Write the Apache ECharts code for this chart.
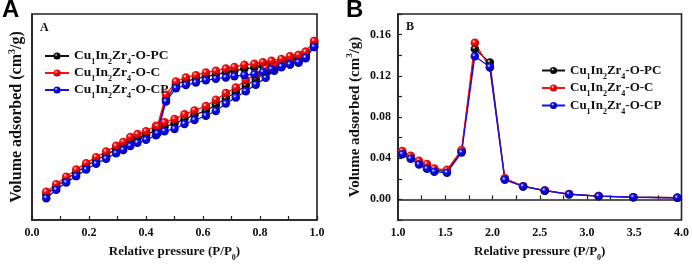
<!DOCTYPE html>
<html>
<head>
<meta charset="utf-8">
<script src="https://cdn.jsdelivr.net/npm/echarts@6/dist/echarts.min.js"></script>
<style>
  html, body { margin: 0; padding: 0; background: #fff; overflow: hidden; }
  #main { width: 692px; height: 267px; }
</style>
</head>
<body>
<div id="main"></div>
<script>
// panel A: N2 isotherms, adsorption branch then desorption branch
var adsX = [0.05, 0.085, 0.12, 0.155, 0.19, 0.225, 0.26, 0.295, 0.32, 0.345, 0.37, 0.40, 0.435, 0.465, 0.50,
	0.535, 0.57, 0.61, 0.645, 0.68, 0.715, 0.75, 0.785, 0.82, 0.85, 0.875, 0.905, 0.935, 0.96, 0.99];
var desX = [0.99, 0.96, 0.935, 0.905, 0.875, 0.84, 0.81, 0.78, 0.745, 0.71, 0.68, 0.645, 0.61, 0.575, 0.54, 0.505, 0.47, 0.44];

var adsPC = [12.5, 16.2, 19.8, 23.0, 26.2, 29.0, 31.6, 34.3, 36.0, 38.2, 39.8, 41.2, 43.6, 45.3, 46.8,
	49.0, 51.0, 53.0, 55.8, 59.0, 62.0, 65.2, 68.2, 71.5, 74.0, 75.5, 77.0, 78.5, 80.0, 85.5];
var adsC = [13.7, 17.4, 21.0, 24.5, 27.6, 30.5, 33.2, 36.0, 37.9, 40.3, 41.7, 43.1, 45.8, 47.4, 49.0,
	51.3, 53.2, 55.3, 58.4, 61.6, 64.3, 67.9, 70.6, 73.9, 75.4, 76.8, 78.7, 80.1, 81.7, 86.9];
var adsCP = [10.6, 14.7, 18.2, 21.3, 24.5, 27.3, 29.7, 32.4, 34.0, 35.9, 37.5, 38.9, 41.1, 43.1, 44.2,
	46.6, 48.5, 50.6, 52.9, 56.5, 59.5, 62.5, 65.7, 69.0, 72.5, 74.2, 75.5, 76.5, 78.5, 84.0];

var desPC = [85.5, 80.0, 78.6, 77.8, 76.9, 75.8, 75.0, 74.0, 73.4, 72.4, 71.6, 70.6, 69.6, 68.5, 67.4, 65.9, 58.5, 44.0];
var desC = [86.9, 81.7, 80.1, 79.5, 78.2, 77.3, 76.6, 75.8, 75.4, 74.3, 73.5, 72.4, 71.6, 70.3, 69.2, 67.2, 60.8, 45.5];
var desCP = [84.0, 78.8, 76.5, 75.5, 74.5, 73.2, 71.8, 70.8, 70.3, 69.8, 69.2, 68.6, 67.8, 66.7, 65.5, 64.0, 57.5, 42.0];

// panel B: pore size distribution
var poreX = [1.045, 1.134, 1.222, 1.306, 1.384, 1.518, 1.673, 1.813, 1.972, 2.13, 2.324, 2.553, 2.81, 3.123, 3.49, 3.955];
var porePC = [0.0455, 0.041, 0.0358, 0.032, 0.0284, 0.0272, 0.047, 0.146, 0.133, 0.020, 0.0127, 0.0086, 0.0051, 0.0032, 0.0022, 0.0016];
var poreC = [0.047, 0.0423, 0.0376, 0.0344, 0.030, 0.0287, 0.048, 0.152, 0.128, 0.0205, 0.0128, 0.0087, 0.0052, 0.0032, 0.0022, 0.0016];
var poreCP = [0.0439, 0.0395, 0.0338, 0.0297, 0.0268, 0.0259, 0.0455, 0.139, 0.1285, 0.019, 0.0126, 0.0085, 0.005, 0.0031, 0.0021, 0.0015];

var names = ['Cu1In2Zr4-O-PC', 'Cu1In2Zr4-O-C', 'Cu1In2Zr4-O-CP'];
var colors = ['#111111', '#ff1010', '#1010ee'];
var darks = ['#000000', '#b00000', '#0000a0'];

var serif = '"Liberation Serif", "Times New Roman", serif';

function pairs(xs, ys) {
	var out = [];
	for (var i = 0; i < xs.length; i++) out.push([xs[i], ys[i]]);
	return out;
}

function ball(i) {
	return new echarts.graphic.RadialGradient(0.38, 0.35, 0.65, [
		{ offset: 0, color: '#ffffff' },
		{ offset: 0.3, color: colors[i] },
		{ offset: 1, color: darks[i] }
	]);
}

function richName(fs) {
	return {
		n: { fontSize: fs, fontWeight: 'bold', fontFamily: serif, color: '#111', lineHeight: 20 },
		s: { fontSize: Math.round(fs * 0.62), fontWeight: 'bold', fontFamily: serif, color: '#111', lineHeight: 11, verticalAlign: 'bottom' },
		u: { fontSize: Math.round(fs * 0.62), fontWeight: 'bold', fontFamily: serif, color: '#111', lineHeight: 11, verticalAlign: 'top' }
	};
}

function legendFmt(name) {
	var tail = name.split('Zr4')[1];
	return '{n|Cu}{s|1}{n|In}{s|2}{n|Zr}{s|4}{n|' + tail + '}';
}

var axisLine = { show: true, lineStyle: { color: '#222', width: 1.6 } };
var axisTick = { show: true, inside: true, length: 4, lineStyle: { color: '#222', width: 1.2 } };
var labelStyle = { color: '#111', fontSize: 12, fontWeight: 'bold', fontFamily: serif, margin: 7 };

var isoA = [adsPC, adsC, adsCP];
var isoD = [desPC, desC, desCP];
var pore = [porePC, poreC, poreCP];

var series = [];
for (var i = 0; i < 3; i++) {
	series.push({
		name: names[i],
		type: 'line',
		xAxisIndex: 0,
		yAxisIndex: 0,
		symbol: 'circle',
		symbolSize: 8.5,
		itemStyle: { color: ball(i) },
		lineStyle: { color: colors[i], width: 1.3 },
		data: pairs(adsX, isoA[i]).concat(pairs(desX, isoD[i]))
	});
}
for (var i = 0; i < 3; i++) {
	series.push({
		name: names[i],
		type: 'line',
		xAxisIndex: 1,
		yAxisIndex: 1,
		symbol: 'circle',
		symbolSize: 8.5,
		itemStyle: { color: ball(i) },
		lineStyle: { color: colors[i], width: 1.3 },
		data: pairs(poreX, pore[i])
	});
}

var myChart = echarts.init(document.getElementById('main'));
var option = {
	animation: false,
	backgroundColor: '#fff',
	grid: [
		{ left: 32, right: 375, top: 14, bottom: 42, show: true, borderColor: '#222', borderWidth: 1.6 },
		{ left: 398, right: 10, top: 14, bottom: 41, show: true, borderColor: '#222', borderWidth: 1.6 }
	],
	legend: [
		{
			left: 39, top: 44, orient: 'vertical', itemGap: 0, itemWidth: 24, itemHeight: 9,
			data: names, formatter: legendFmt, selectedMode: false,
			textStyle: { rich: richName(13.5) }
		},
		{
			left: 536, top: 59, orient: 'vertical', itemGap: 1, itemWidth: 23, itemHeight: 9,
			data: names, formatter: legendFmt, selectedMode: false,
			textStyle: { rich: richName(13) }
		}
	],
	xAxis: [
		{
			gridIndex: 0, type: 'value', min: 0, max: 1, interval: 0.1,
			axisLine: axisLine, axisTick: axisTick, splitLine: { show: false },
			axisLabel: Object.assign({}, labelStyle, {
				formatter: function (v) { return Math.round(v * 10) % 2 === 0 ? v.toFixed(1) : ''; }
			}),
			name: '{n|Relative pressure (P/P}{s|0}{n|)}', nameLocation: 'middle', nameGap: 22,
			nameTextStyle: { rich: richName(13) }
		},
		{
			gridIndex: 1, type: 'value', min: 1, max: 4, interval: 0.25,
			axisLine: axisLine, axisTick: axisTick, splitLine: { show: false },
			axisLabel: Object.assign({}, labelStyle, {
				formatter: function (v) { return Math.round(v * 100) % 50 === 0 ? v.toFixed(1) : ''; }
			}),
			name: '{n|Relative pressure (P/P}{s|0}{n|)}', nameLocation: 'middle', nameGap: 22,
			nameTextStyle: { rich: richName(13) }
		}
	],
	yAxis: [
		{
			gridIndex: 0, type: 'value', min: 0, max: 100,
			axisLine: axisLine, axisTick: { show: false }, axisLabel: { show: false }, splitLine: { show: false },
			name: '{n|Volume adsorbed (cm}{u|3}{n|/g)}', nameLocation: 'middle', nameGap: 5,
			nameTextStyle: { rich: richName(16) }
		},
		{
			gridIndex: 1, type: 'value', min: -0.02, max: 0.18, interval: 0.02,
			axisLine: axisLine, axisTick: axisTick, splitLine: { show: false },
			axisLabel: Object.assign({}, labelStyle, {
				formatter: function (v) { return Math.round(v * 100) % 4 === 0 ? v.toFixed(2) : ''; }
			}),
			name: '{n|Volume adsorbed (cm}{u|3}{n|/g)}', nameLocation: 'middle', nameGap: 33,
			nameTextStyle: { rich: richName(15) }
		}
	],
	graphic: [
		{ type: 'text', left: 2, top: -2, style: { text: 'A', fontSize: 24, fontWeight: 'bold', fontFamily: '"Liberation Sans", Arial, sans-serif', fill: '#000' } },
		{ type: 'text', left: 346, top: -2, style: { text: 'B', fontSize: 24, fontWeight: 'bold', fontFamily: '"Liberation Sans", Arial, sans-serif', fill: '#000' } },
		{ type: 'text', left: 40, top: 22, style: { text: 'A', fontSize: 12, fontWeight: 'bold', fontFamily: serif, fill: '#111' } },
		{ type: 'text', left: 406, top: 21, style: { text: 'B', fontSize: 12, fontWeight: 'bold', fontFamily: serif, fill: '#111' } }
	],
	series: series
};
myChart.setOption(option);
</script>
</body>
</html>
